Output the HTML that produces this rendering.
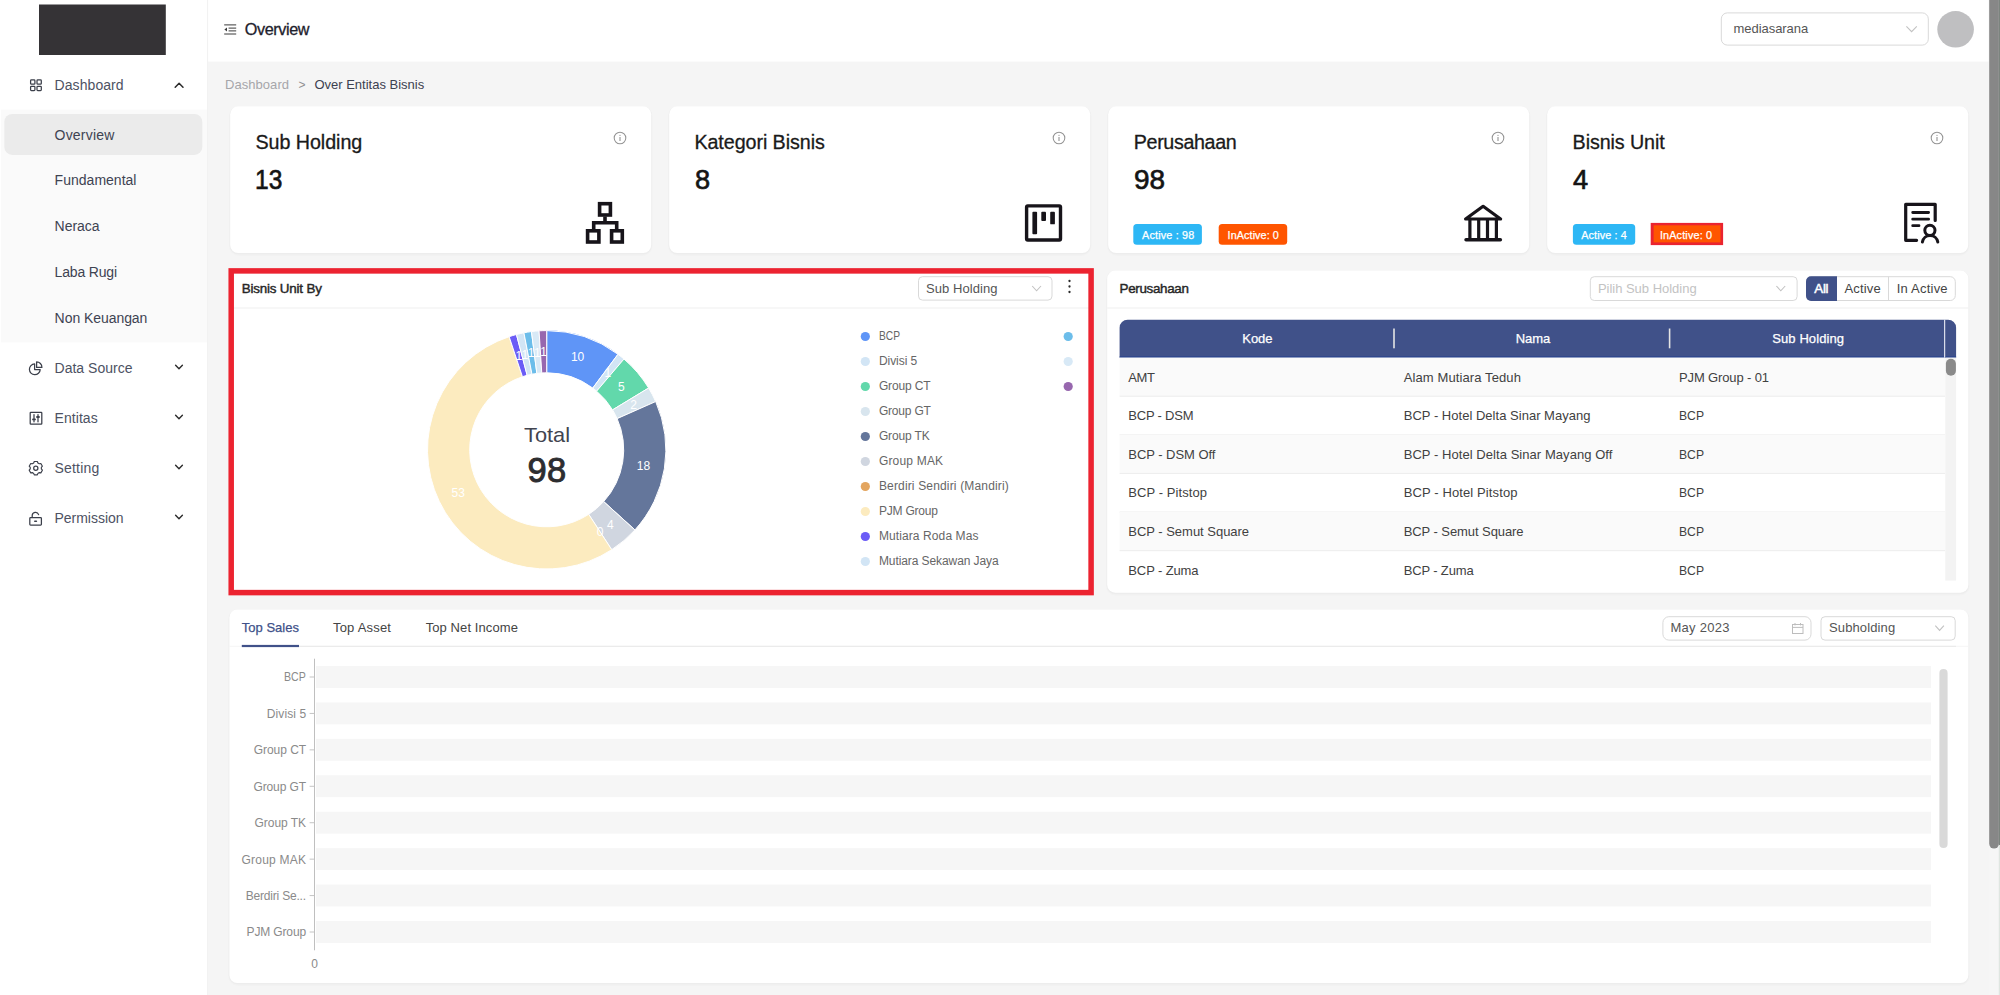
<!DOCTYPE html>
<html lang="en"><head><meta charset="utf-8"><title>Overview</title><style>
*{margin:0;padding:0}
html,body{width:2000px;height:995px;overflow:hidden;background:#f5f5f5}
body{position:relative;font-family:"Liberation Sans",sans-serif}
.b{position:absolute;display:block}
.t{position:absolute;white-space:nowrap;display:block}
svg text{font-family:"Liberation Sans",sans-serif}
</style></head>
<body>
<svg class="b" style="left:0;top:0" width="2000" height="995" viewBox="0 0 2000 995">
<rect x="0.00" y="0.00" width="207.20" height="995.00" fill="#fff"/>
<rect x="207.20" y="0.00" width="0.90" height="995.00" fill="#f0f0f0"/>
<rect x="39.00" y="4.50" width="126.80" height="50.50" fill="#353336"/>
<rect x="1.00" y="109.60" width="206.00" height="232.80" fill="#fafafa"/>
<rect x="4.30" y="113.90" width="198.00" height="41.00" fill="#ebebeb" rx="8"/>
<rect x="208.10" y="0.00" width="1781.00" height="61.60" fill="#fff"/>
<rect x="1721.30" y="12.90" width="207.00" height="32.20" fill="#fff" rx="6" stroke="#d9d9d9" stroke-width="1"/>
<circle cx="1955.6" cy="29.3" r="18.3" fill="#bfbfc1"/>
<rect x="228.70" y="105.80" width="424.00" height="150.20" fill="rgba(0,0,0,0.012)" rx="10"/>
<rect x="229.50" y="106.30" width="422.40" height="148.30" fill="rgba(0,0,0,0.02)" rx="9"/>
<rect x="230.20" y="106.30" width="421.00" height="146.70" fill="#fff" rx="8"/>
<rect x="667.70" y="105.80" width="424.00" height="150.20" fill="rgba(0,0,0,0.012)" rx="10"/>
<rect x="668.50" y="106.30" width="422.40" height="148.30" fill="rgba(0,0,0,0.02)" rx="9"/>
<rect x="669.20" y="106.30" width="421.00" height="146.70" fill="#fff" rx="8"/>
<rect x="1106.70" y="105.80" width="424.00" height="150.20" fill="rgba(0,0,0,0.012)" rx="10"/>
<rect x="1107.50" y="106.30" width="422.40" height="148.30" fill="rgba(0,0,0,0.02)" rx="9"/>
<rect x="1108.20" y="106.30" width="421.00" height="146.70" fill="#fff" rx="8"/>
<rect x="1545.70" y="105.80" width="424.00" height="150.20" fill="rgba(0,0,0,0.012)" rx="10"/>
<rect x="1546.50" y="106.30" width="422.40" height="148.30" fill="rgba(0,0,0,0.02)" rx="9"/>
<rect x="1547.20" y="106.30" width="421.00" height="146.70" fill="#fff" rx="8"/>
<rect x="1133.30" y="224.00" width="68.60" height="20.70" fill="#2db7f5" rx="3.5"/>
<rect x="1218.70" y="224.00" width="68.50" height="20.70" fill="#ff5500" rx="3.5"/>
<rect x="1572.90" y="224.00" width="62.30" height="20.70" fill="#2db7f5" rx="3.5"/>
<rect x="1650.70" y="222.90" width="72.40" height="22.20" fill="#ea2430"/>
<rect x="1653.60" y="225.30" width="66.90" height="17.10" fill="#ff5500"/>
<rect x="228.70" y="270.10" width="863.00" height="325.60" fill="rgba(0,0,0,0.012)" rx="10"/>
<rect x="229.50" y="270.60" width="861.40" height="323.70" fill="rgba(0,0,0,0.02)" rx="9"/>
<rect x="230.20" y="270.60" width="860.00" height="322.10" fill="#fff" rx="8"/>
<rect x="234.00" y="307.50" width="855.00" height="1.00" fill="#f0f0f0"/>
<rect x="918.50" y="276.70" width="133.50" height="23.40" fill="#fff" rx="4" stroke="#d9d9d9" stroke-width="1"/>
<rect x="1105.70" y="270.10" width="864.20" height="325.60" fill="rgba(0,0,0,0.012)" rx="10"/>
<rect x="1106.50" y="270.60" width="862.60" height="323.70" fill="rgba(0,0,0,0.02)" rx="9"/>
<rect x="1107.20" y="270.60" width="861.20" height="322.10" fill="#fff" rx="8"/>
<rect x="1107.20" y="307.50" width="861.20" height="1.00" fill="#f0f0f0"/>
<rect x="1590.30" y="276.70" width="206.80" height="23.80" fill="#fff" rx="4" stroke="#d9d9d9" stroke-width="1"/>
<rect x="1806.50" y="276.70" width="148.80" height="23.80" fill="#fff" rx="5" stroke="#d9d9d9" stroke-width="1"/>
<path d="M1837 276.2 H1811 A5 5 0 0 0 1806 281.2 V296 A5 5 0 0 0 1811 301 H1837 Z" fill="#405189"/>
<rect x="1888.00" y="276.70" width="1.00" height="23.80" fill="#d9d9d9"/>
<path d="M1119.6 357.6 V327.7 A8 8 0 0 1 1127.6 319.7 H1948.1 A8 8 0 0 1 1956.1 327.7 V357.6 Z" fill="#405189"/>
<rect x="1119.60" y="356.40" width="836.50" height="1.30" fill="#26428f"/>
<rect x="1393.20" y="328.50" width="1.60" height="19.80" fill="#e4e4e4"/>
<rect x="1668.80" y="328.50" width="1.60" height="19.80" fill="#e4e4e4"/>
<rect x="1944.10" y="319.70" width="1.10" height="37.90" fill="#e9ecf5"/>
<rect x="1119.60" y="357.60" width="825.40" height="38.60" fill="#fafafa"/>
<rect x="1119.60" y="395.70" width="825.40" height="1.10" fill="#eeeeee"/>
<rect x="1119.60" y="434.30" width="825.40" height="1.10" fill="#eeeeee"/>
<rect x="1119.60" y="434.80" width="825.40" height="38.60" fill="#fafafa"/>
<rect x="1119.60" y="472.90" width="825.40" height="1.10" fill="#eeeeee"/>
<rect x="1119.60" y="511.50" width="825.40" height="1.10" fill="#eeeeee"/>
<rect x="1119.60" y="512.00" width="825.40" height="38.60" fill="#fafafa"/>
<rect x="1119.60" y="550.10" width="825.40" height="1.10" fill="#eeeeee"/>
<rect x="1945.30" y="357.60" width="10.80" height="223.00" fill="#f3f3f3"/>
<rect x="1945.90" y="358.80" width="10.00" height="17.00" fill="#8a8a8a" rx="5"/>
<rect x="227.90" y="608.90" width="1742.00" height="377.10" fill="rgba(0,0,0,0.012)" rx="10"/>
<rect x="228.70" y="609.40" width="1740.40" height="375.20" fill="rgba(0,0,0,0.02)" rx="9"/>
<rect x="229.40" y="609.40" width="1739.00" height="373.60" fill="#fff" rx="8"/>
<rect x="229.40" y="645.80" width="1739.00" height="1.00" fill="#f5f5f5"/>
<rect x="241.80" y="645.80" width="1714.20" height="1.00" fill="#e8e8e8"/>
<rect x="241.80" y="644.90" width="57.20" height="2.20" fill="#405189"/>
<rect x="1662.90" y="616.70" width="148.10" height="23.40" fill="#fff" rx="6" stroke="#d9d9d9" stroke-width="1"/>
<rect x="1821.00" y="616.70" width="134.20" height="23.40" fill="#fff" rx="4" stroke="#d9d9d9" stroke-width="1"/>
<rect x="316.00" y="666.00" width="1615.00" height="21.90" fill="#f6f6f6"/>
<rect x="309.60" y="676.50" width="4.40" height="1.00" fill="#c4c4c4"/>
<rect x="316.00" y="702.43" width="1615.00" height="21.90" fill="#f6f6f6"/>
<rect x="309.60" y="712.93" width="4.40" height="1.00" fill="#c4c4c4"/>
<rect x="316.00" y="738.86" width="1615.00" height="21.90" fill="#f6f6f6"/>
<rect x="309.60" y="749.36" width="4.40" height="1.00" fill="#c4c4c4"/>
<rect x="316.00" y="775.29" width="1615.00" height="21.90" fill="#f6f6f6"/>
<rect x="309.60" y="785.79" width="4.40" height="1.00" fill="#c4c4c4"/>
<rect x="316.00" y="811.72" width="1615.00" height="21.90" fill="#f6f6f6"/>
<rect x="309.60" y="822.22" width="4.40" height="1.00" fill="#c4c4c4"/>
<rect x="316.00" y="848.15" width="1615.00" height="21.90" fill="#f6f6f6"/>
<rect x="309.60" y="858.65" width="4.40" height="1.00" fill="#c4c4c4"/>
<rect x="316.00" y="884.58" width="1615.00" height="21.90" fill="#f6f6f6"/>
<rect x="309.60" y="895.08" width="4.40" height="1.00" fill="#c4c4c4"/>
<rect x="316.00" y="921.01" width="1615.00" height="21.90" fill="#f6f6f6"/>
<rect x="309.60" y="931.51" width="4.40" height="1.00" fill="#c4c4c4"/>
<rect x="314.00" y="658.70" width="1.00" height="291.60" fill="#bfbfbf"/>
<rect x="1939.40" y="668.90" width="8.20" height="179.20" fill="#d9d9d9" rx="4.1"/>
<rect x="1988.60" y="0.00" width="11.40" height="995.00" fill="#f6f6f6"/>
<rect x="1998.80" y="0.00" width="1.20" height="995.00" fill="#dfe6e1"/>
<rect x="1998.80" y="0.00" width="1.20" height="845.00" fill="#7b847e"/>
<rect x="1989.20" y="-10.00" width="9.70" height="858.60" fill="#878787" rx="5"/>
</svg>
<aside>
<span class="t" style="left:54.60px;top:75px;font-size:14px;line-height:20px;color:#4d5263;letter-spacing:0.063px;">Dashboard</span>
<span class="t" style="left:54.60px;top:125px;font-size:14px;line-height:20px;color:#3e4352;letter-spacing:0.189px;">Overview</span>
<span class="t" style="left:54.60px;top:170px;font-size:14px;line-height:20px;color:#3e4352;letter-spacing:0.017px;">Fundamental</span>
<span class="t" style="left:54.60px;top:216px;font-size:14px;line-height:20px;color:#3e4352;letter-spacing:-0.030px;">Neraca</span>
<span class="t" style="left:54.60px;top:262px;font-size:14px;line-height:20px;color:#3e4352;letter-spacing:-0.168px;">Laba Rugi</span>
<span class="t" style="left:54.60px;top:308px;font-size:14px;line-height:20px;color:#3e4352;letter-spacing:-0.056px;">Non Keuangan</span>
<span class="t" style="left:54.50px;top:358px;font-size:14px;line-height:20px;color:#4d5263;letter-spacing:0.016px;">Data Source</span>
<span class="t" style="left:54.50px;top:408px;font-size:14px;line-height:20px;color:#4d5263;letter-spacing:0.066px;">Entitas</span>
<span class="t" style="left:54.50px;top:458px;font-size:14px;line-height:20px;color:#4d5263;letter-spacing:0.188px;">Setting</span>
<span class="t" style="left:54.50px;top:508px;font-size:14px;line-height:20px;color:#4d5263;letter-spacing:-0.026px;">Permission</span>
<svg class="b" style="left:0;top:0" width="207" height="560" viewBox="0 0 207 560" fill="none" stroke="#3b3f4a" stroke-width="1.25" stroke-linecap="round" stroke-linejoin="round">
<g><rect x="30.6" y="79.9" width="4.3" height="4.3" rx="0.8"/><rect x="37" y="79.9" width="4.3" height="4.3" rx="0.8"/><rect x="30.6" y="86.3" width="4.3" height="4.3" rx="0.8"/><rect x="37" y="86.3" width="4.3" height="4.3" rx="0.8"/></g>
<path d="M175.2 87.3 L179.1 83.2 L183 87.3" stroke="#2b2b2b" stroke-width="1.5"/>
<path d="M175.6 365.2 L179 368.7 L182.4 365.2" stroke="#2b2b2b" stroke-width="1.4"/>
<path d="M175.6 415.2 L179 418.7 L182.4 415.2" stroke="#2b2b2b" stroke-width="1.4"/>
<path d="M175.6 465.2 L179 468.7 L182.4 465.2" stroke="#2b2b2b" stroke-width="1.4"/>
<path d="M175.6 515.2 L179 518.7 L182.4 515.2" stroke="#2b2b2b" stroke-width="1.4"/>
<path d="M34.6 363.9 A5.4 5.4 0 1 0 40.2 369.6 L34.6 369.6 Z"/><path d="M36.6 361.9 A5.3 5.3 0 0 1 41.9 367.4 L36.6 367.4 Z"/>
<rect x="30.2" y="412.4" width="11.6" height="11.6" rx="0.6"/><path d="M34 414.6 V421.8 M38 414.6 V421.8"/><path d="M33 419.4 H35 M37 417 H39" stroke-width="1.8"/>
<path d="M34.25 461.48 L37.35 461.48 L37.90 463.01 L39.25 463.79 L40.85 463.49 L42.40 466.18 L41.35 467.42 L41.35 468.98 L42.40 470.22 L40.85 472.91 L39.25 472.61 L37.90 473.39 L37.35 474.92 L34.25 474.92 L33.70 473.39 L32.35 472.61 L30.75 472.91 L29.20 470.22 L30.25 468.98 L30.25 467.42 L29.20 466.18 L30.75 463.49 L32.35 463.79 L33.70 463.01 Z" stroke-width="1.15"/><circle cx="35.8" cy="468.2" r="2.1"/>
<rect x="29.8" y="517.6" width="11.6" height="7.4" rx="0.8"/><path d="M32.2 517.4 V515.6 A3.3 3.3 0 0 1 38.6 514.6"/><path d="M34.8 521.3 H36.4" stroke-width="1.6"/>
</svg>
</aside>
<header>
<svg class="b" style="left:222px;top:22px" width="18" height="16" viewBox="222 22 18 16" fill="none" stroke="#3a3a3a" stroke-width="1">
<path d="M224.2 24.9 H236.2 M228.6 28.1 H236.2 M228.6 30.9 H236.2 M224.2 34 H236.2"/><path d="M227 27.5 L224.4 29.5 L227 31.5 Z" fill="#3a3a3a" stroke="none"/></svg>
<span class="t" style="left:244.80px;top:18px;font-size:16.2px;line-height:23px;color:#1d212c;letter-spacing:-0.393px;-webkit-text-stroke:0.3px #1d212c;">Overview</span>
<span class="t" style="left:1733.50px;top:20px;font-size:13px;line-height:18px;color:#555;letter-spacing:-0.047px;">mediasarana</span>
<svg class="b" style="left:1904px;top:24px" width="16" height="12" viewBox="1904 24 16 12" fill="none" stroke="#c2c2c2" stroke-width="1.1"><path d="M1906.4 26.3 L1911.6 31.6 L1916.8 26.3"/></svg>
</header>
<main>
<span class="t" style="left:225.00px;top:76px;font-size:13px;line-height:18px;color:#a6a6aa;letter-spacing:0.050px;">Dashboard</span>
<span class="t" style="left:298.60px;top:77px;font-size:12px;line-height:17px;color:#8f8f8f;">&gt;</span>
<span class="t" style="left:314.40px;top:76px;font-size:13px;line-height:18px;color:#3c4150;">Over Entitas Bisnis</span>
<span class="t" style="left:255.40px;top:128px;font-size:19.7px;line-height:28px;color:#1a1a1a;letter-spacing:-0.042px;-webkit-text-stroke:0.3px #1a1a1a;">Sub Holding</span>
<span class="t" style="left:255.40px;top:161px;font-size:27.2px;line-height:38px;color:#141414;-webkit-text-stroke:0.65px #141414;transform:scaleX(0.9022);transform-origin:0 0;">13</span>
<svg class="b" style="left:611.5px;top:129.6px" width="16" height="16" viewBox="-8 -8 16 16" fill="none" stroke="#949494" stroke-width="1.05"><circle r="5.8"/><path d="M0 -0.9 V3" stroke-width="1.1"/><circle cy="-2.7" r="0.65" fill="#949494" stroke="none"/></svg>
<span class="t" style="left:694.40px;top:128px;font-size:19.7px;line-height:28px;color:#1a1a1a;letter-spacing:-0.064px;-webkit-text-stroke:0.3px #1a1a1a;">Kategori Bisnis</span>
<span class="t" style="left:695.00px;top:161px;font-size:27.2px;line-height:38px;color:#141414;-webkit-text-stroke:0.65px #141414;">8</span>
<svg class="b" style="left:1050.5px;top:129.6px" width="16" height="16" viewBox="-8 -8 16 16" fill="none" stroke="#949494" stroke-width="1.05"><circle r="5.8"/><path d="M0 -0.9 V3" stroke-width="1.1"/><circle cy="-2.7" r="0.65" fill="#949494" stroke="none"/></svg>
<span class="t" style="left:1133.80px;top:128px;font-size:19.7px;line-height:28px;color:#1a1a1a;letter-spacing:-0.359px;-webkit-text-stroke:0.3px #1a1a1a;">Perusahaan</span>
<span class="t" style="left:1133.80px;top:161px;font-size:27.2px;line-height:38px;color:#141414;-webkit-text-stroke:0.65px #141414;transform:scaleX(1.0278);transform-origin:0 0;">98</span>
<svg class="b" style="left:1489.5px;top:129.6px" width="16" height="16" viewBox="-8 -8 16 16" fill="none" stroke="#949494" stroke-width="1.05"><circle r="5.8"/><path d="M0 -0.9 V3" stroke-width="1.1"/><circle cy="-2.7" r="0.65" fill="#949494" stroke="none"/></svg>
<span class="t" style="left:1572.60px;top:128px;font-size:19.7px;line-height:28px;color:#1a1a1a;letter-spacing:-0.088px;-webkit-text-stroke:0.3px #1a1a1a;">Bisnis Unit</span>
<span class="t" style="left:1573.10px;top:161px;font-size:27.2px;line-height:38px;color:#141414;-webkit-text-stroke:0.65px #141414;">4</span>
<svg class="b" style="left:1928.5px;top:129.6px" width="16" height="16" viewBox="-8 -8 16 16" fill="none" stroke="#949494" stroke-width="1.05"><circle r="5.8"/><path d="M0 -0.9 V3" stroke-width="1.1"/><circle cy="-2.7" r="0.65" fill="#949494" stroke="none"/></svg>
<span class="t" style="left:1142.00px;top:228px;font-size:10.8px;line-height:15px;color:#fff;letter-spacing:0.186px;-webkit-text-stroke:0.25px #fff;">Active : 98</span>
<span class="t" style="left:1227.60px;top:228px;font-size:10.8px;line-height:15px;color:#fff;letter-spacing:0.086px;-webkit-text-stroke:0.25px #fff;">InActive: 0</span>
<span class="t" style="left:1581.20px;top:228px;font-size:10.8px;line-height:15px;color:#fff;letter-spacing:0.132px;-webkit-text-stroke:0.25px #fff;">Active : 4</span>
<span class="t" style="left:1659.90px;top:228px;font-size:10.8px;line-height:15px;color:#fff;letter-spacing:0.176px;-webkit-text-stroke:0.25px #fff;">InActive: 0</span>
<svg class="b" style="left:580px;top:198px" width="50" height="50" viewBox="580 198 50 50" fill="none" stroke="#17141a" stroke-width="3.6" stroke-linejoin="miter">
<rect x="599.6" y="203.7" width="10.8" height="11.3"/><rect x="587.6" y="230.8" width="11.3" height="11.2"/><rect x="611.6" y="230.8" width="10.7" height="11.2"/>
<path d="M605 216.6 V222.8 M593.7 229.4 V222.8 H616.7 V229.4"/></svg>
<svg class="b" style="left:1020px;top:200px" width="48" height="46" viewBox="1020 200 48 46" fill="none" stroke="#17141a">
<rect x="1026.6" y="205.9" width="33.9" height="34.1" rx="1.2" stroke-width="3.4"/>
<g fill="#17141a" stroke="none"><rect x="1032.4" y="211.8" width="4.7" height="22.4" rx="0.9"/><rect x="1041.3" y="211.8" width="4.7" height="9.2" rx="0.9"/><rect x="1050.2" y="211.8" width="4.7" height="12.5" rx="0.9"/></g></svg>
<svg class="b" style="left:1460px;top:200px" width="48" height="46" viewBox="1460 200 48 46" fill="none" stroke="#17141a" stroke-width="3.2" stroke-linejoin="round" stroke-linecap="round">
<path d="M1465.6 219 L1483.1 206.3 L1500.6 219 Z"/><path d="M1469.9 220 V239 M1478.7 220 V239 M1487.5 220 V239 M1496.4 220 V239" stroke-linecap="butt"/><path d="M1466 239.8 H1500.4" stroke-width="3.4"/></svg>
<svg class="b" style="left:1900px;top:198px" width="44" height="50" viewBox="1900 198 44 50" fill="none" stroke="#17141a" stroke-width="3.2" stroke-linecap="round" stroke-linejoin="round">
<path d="M1935.2 220.4 V204.3 H1905.7 V240.3 H1916.6"/><path d="M1912.7 212.5 H1928.6 M1912.7 219.2 H1928.6 M1912.7 225.7 H1919" stroke-width="2.8"/>
<circle cx="1929.9" cy="230.3" r="5.1" stroke-width="3"/><path d="M1922.4 242 A7.8 7.8 0 0 1 1937.8 242" stroke-width="3"/></svg>
<span class="t" style="left:241.80px;top:279px;font-size:13.4px;line-height:19px;color:#262626;letter-spacing:-0.196px;-webkit-text-stroke:0.42px #262626;">Bisnis Unit By</span>
<span class="t" style="left:926.00px;top:280px;font-size:13px;line-height:18px;color:#555;letter-spacing:0.068px;">Sub Holding</span>
<svg class="b" style="left:1028px;top:282px" width="18" height="14" viewBox="1028 282 18 14" fill="none" stroke="#c2c2c2" stroke-width="1.1"><path d="M1032.2 286 L1036.6 290.8 L1041 286"/></svg>
<svg class="b" style="left:1064px;top:278px" width="12" height="18" viewBox="1064 278 12 18" fill="#2b2b2b"><circle cx="1069.5" cy="281" r="1.15"/><circle cx="1069.5" cy="286.5" r="1.15"/><circle cx="1069.5" cy="292" r="1.15"/></svg>
<svg class="b" style="left:400px;top:310px" width="300" height="280" viewBox="400 310 300 280"><path d="M546.70 330.60 A119.2 119.2 0 0 1 617.99 354.27 L592.75 388.09 A77 77 0 0 0 546.70 372.80 Z" fill="#5f95f7" stroke="#fff" stroke-width="1"/><path d="M617.99 354.27 A119.2 119.2 0 0 1 623.97 359.04 L596.61 391.17 A77 77 0 0 0 592.75 388.09 Z" fill="#d2e5f5" stroke="#fff" stroke-width="1"/><path d="M623.97 359.04 A119.2 119.2 0 0 1 648.63 388.01 L612.55 409.88 A77 77 0 0 0 596.61 391.17 Z" fill="#62d8ab" stroke="#fff" stroke-width="1"/><path d="M648.63 388.01 A119.2 119.2 0 0 1 655.70 401.55 L617.11 418.63 A77 77 0 0 0 612.55 409.88 Z" fill="#d8e5ee" stroke="#fff" stroke-width="1"/><path d="M655.70 401.55 A119.2 119.2 0 0 1 634.94 529.94 L603.70 501.57 A77 77 0 0 0 617.11 418.63 Z" fill="#64769b" stroke="#fff" stroke-width="1"/><path d="M634.94 529.94 A119.2 119.2 0 0 1 611.73 549.70 L588.71 514.33 A77 77 0 0 0 603.70 501.57 Z" fill="#d0d6e0" stroke="#fff" stroke-width="1"/><path d="M611.73 549.70 A119.2 119.2 0 1 1 509.14 336.67 L522.44 376.72 A77 77 0 1 0 588.71 514.33 Z" fill="#fcebbf" stroke="#fff" stroke-width="1"/><path d="M509.14 336.67 A119.2 119.2 0 0 1 516.46 334.50 L527.17 375.32 A77 77 0 0 0 522.44 376.72 Z" fill="#6b5cf6" stroke="#fff" stroke-width="1"/><path d="M516.46 334.50 A119.2 119.2 0 0 1 523.91 332.80 L531.98 374.22 A77 77 0 0 0 527.17 375.32 Z" fill="#d2e5f5" stroke="#fff" stroke-width="1"/><path d="M523.91 332.80 A119.2 119.2 0 0 1 531.46 331.58 L536.85 373.43 A77 77 0 0 0 531.98 374.22 Z" fill="#6cbdea" stroke="#fff" stroke-width="1"/><path d="M531.46 331.58 A119.2 119.2 0 0 1 539.06 330.84 L541.77 372.96 A77 77 0 0 0 536.85 373.43 Z" fill="#d8e9f6" stroke="#fff" stroke-width="1"/><path d="M539.06 330.84 A119.2 119.2 0 0 1 546.70 330.60 L546.70 372.80 A77 77 0 0 0 541.77 372.96 Z" fill="#9767ae" stroke="#fff" stroke-width="1"/><text x="577.6" y="361.0" text-anchor="middle" font-size="12" fill="#fff">10</text><text x="607.9" y="377.4" text-anchor="middle" font-size="12" fill="#fff">1</text><text x="621.4" y="390.5" text-anchor="middle" font-size="12" fill="#fff">5</text><text x="633.7" y="408.7" text-anchor="middle" font-size="12" fill="#fff">2</text><text x="643.5" y="469.8" text-anchor="middle" font-size="12" fill="#fff">18</text><text x="610.3" y="528.8" text-anchor="middle" font-size="12" fill="#fff">4</text><text x="600.2" y="536.3" text-anchor="middle" font-size="12" fill="#fff">0</text><text x="458.3" y="496.7" text-anchor="middle" font-size="12" fill="#fff">53</text><text x="518.8" y="360.1" text-anchor="middle" font-size="12" fill="#fff">1</text><text x="524.9" y="358.5" text-anchor="middle" font-size="12" fill="#fff">1</text><text x="531.0" y="357.3" text-anchor="middle" font-size="12" fill="#fff">1</text><text x="537.3" y="356.5" text-anchor="middle" font-size="12" fill="#fff">1</text><text x="543.6" y="356.1" text-anchor="middle" font-size="12" fill="#fff">1</text></svg>
<span class="t" style="left:524.20px;top:421px;font-size:20.3px;line-height:28px;color:#41444f;transform:scaleX(1.0750);transform-origin:0 0;">Total</span>
<span class="t" style="left:527.40px;top:446px;font-size:34.5px;line-height:48px;color:#2d2d30;letter-spacing:0.419px;-webkit-text-stroke:0.9px #2d2d30;">98</span>
<span class="t" style="left:878.90px;top:328px;font-size:12px;line-height:17px;color:#666666;transform:scaleX(0.8516);transform-origin:0 0;">BCP</span>
<span class="t" style="left:878.90px;top:353px;font-size:12px;line-height:17px;color:#666666;letter-spacing:-0.039px;">Divisi 5</span>
<span class="t" style="left:878.90px;top:378px;font-size:12px;line-height:17px;color:#666666;letter-spacing:-0.126px;">Group CT</span>
<span class="t" style="left:878.90px;top:403px;font-size:12px;line-height:17px;color:#666666;letter-spacing:-0.191px;">Group GT</span>
<span class="t" style="left:878.90px;top:428px;font-size:12px;line-height:17px;color:#666666;letter-spacing:-0.144px;">Group TK</span>
<span class="t" style="left:878.90px;top:453px;font-size:12px;line-height:17px;color:#666666;letter-spacing:0.188px;">Group MAK</span>
<span class="t" style="left:878.90px;top:478px;font-size:12px;line-height:17px;color:#666666;letter-spacing:0.161px;">Berdiri Sendiri (Mandiri)</span>
<span class="t" style="left:878.90px;top:503px;font-size:12px;line-height:17px;color:#666666;letter-spacing:-0.199px;">PJM Group</span>
<span class="t" style="left:878.90px;top:528px;font-size:12px;line-height:17px;color:#666666;letter-spacing:0.104px;">Mutiara Roda Mas</span>
<span class="t" style="left:878.90px;top:553px;font-size:12px;line-height:17px;color:#666666;letter-spacing:-0.085px;">Mutiara Sekawan Jaya</span>
<svg class="b" style="left:856px;top:326px" width="220" height="250" viewBox="856 326 220 250"><circle cx="865.3" cy="336.5" r="4.6" fill="#5f95f7"/><circle cx="865.3" cy="361.5" r="4.6" fill="#d2e5f5"/><circle cx="865.3" cy="386.5" r="4.6" fill="#62d8ab"/><circle cx="865.3" cy="411.5" r="4.6" fill="#d8e5ee"/><circle cx="865.3" cy="436.5" r="4.6" fill="#64769b"/><circle cx="865.3" cy="461.5" r="4.6" fill="#d0d6e0"/><circle cx="865.3" cy="486.5" r="4.6" fill="#e3a55f"/><circle cx="865.3" cy="511.5" r="4.6" fill="#fcebbf"/><circle cx="865.3" cy="536.5" r="4.6" fill="#6b5cf6"/><circle cx="865.3" cy="561.5" r="4.6" fill="#d2e5f5"/><circle cx="1068.2" cy="336.5" r="4.6" fill="#6cbdea"/><circle cx="1068.2" cy="361.5" r="4.6" fill="#d8e9f6"/><circle cx="1068.2" cy="386.5" r="4.6" fill="#9767ae"/></svg>
<span class="t" style="left:1119.60px;top:279px;font-size:13.4px;line-height:19px;color:#262626;letter-spacing:-0.329px;-webkit-text-stroke:0.42px #262626;">Perusahaan</span>
<span class="t" style="left:1597.90px;top:280px;font-size:13px;line-height:18px;color:#c3c3c3;letter-spacing:-0.018px;">Pilih Sub Holding</span>
<svg class="b" style="left:1772px;top:282px" width="18" height="14" viewBox="1772 282 18 14" fill="none" stroke="#c2c2c2" stroke-width="1.1"><path d="M1776.4 286 L1780.8 290.8 L1785.2 286"/></svg>
<span class="t" style="left:1814.30px;top:279px;font-size:13.3px;line-height:19px;color:#fff;letter-spacing:-0.248px;-webkit-text-stroke:0.5px #fff;">All</span>
<span class="t" style="left:1844.50px;top:280px;font-size:13px;line-height:18px;color:#444;letter-spacing:0.162px;">Active</span>
<span class="t" style="left:1896.70px;top:280px;font-size:13px;line-height:18px;color:#444;letter-spacing:0.220px;">In Active</span>
<span class="t" style="left:1242.30px;top:330px;font-size:13px;line-height:18px;color:#fff;letter-spacing:-0.052px;-webkit-text-stroke:0.25px #fff;">Kode</span>
<span class="t" style="left:1515.80px;top:330px;font-size:13px;line-height:18px;color:#fff;letter-spacing:-0.103px;-webkit-text-stroke:0.25px #fff;">Nama</span>
<span class="t" style="left:1772.30px;top:330px;font-size:13px;line-height:18px;color:#fff;letter-spacing:0.088px;-webkit-text-stroke:0.25px #fff;">Sub Holding</span>
<span class="t" style="left:1128.30px;top:369px;font-size:13px;line-height:18px;color:#414141;letter-spacing:-0.415px;">AMT</span>
<span class="t" style="left:1403.70px;top:369px;font-size:13px;line-height:18px;color:#414141;letter-spacing:0.107px;">Alam Mutiara Teduh</span>
<span class="t" style="left:1679.00px;top:369px;font-size:13px;line-height:18px;color:#414141;letter-spacing:-0.134px;">PJM Group - 01</span>
<span class="t" style="left:1128.30px;top:407px;font-size:13px;line-height:18px;color:#414141;letter-spacing:-0.206px;">BCP - DSM</span>
<span class="t" style="left:1403.70px;top:407px;font-size:13px;line-height:18px;color:#414141;letter-spacing:0.021px;">BCP - Hotel Delta Sinar Mayang</span>
<span class="t" style="left:1679.00px;top:407px;font-size:13px;line-height:18px;color:#414141;transform:scaleX(0.9358);transform-origin:0 0;">BCP</span>
<span class="t" style="left:1128.30px;top:446px;font-size:13px;line-height:18px;color:#414141;letter-spacing:-0.040px;">BCP - DSM Off</span>
<span class="t" style="left:1403.70px;top:446px;font-size:13px;line-height:18px;color:#414141;letter-spacing:0.054px;">BCP - Hotel Delta Sinar Mayang Off</span>
<span class="t" style="left:1679.00px;top:446px;font-size:13px;line-height:18px;color:#414141;transform:scaleX(0.9358);transform-origin:0 0;">BCP</span>
<span class="t" style="left:1128.30px;top:484px;font-size:13px;line-height:18px;color:#414141;letter-spacing:0.075px;">BCP - Pitstop</span>
<span class="t" style="left:1403.70px;top:484px;font-size:13px;line-height:18px;color:#414141;letter-spacing:0.113px;">BCP - Hotel Pitstop</span>
<span class="t" style="left:1679.00px;top:484px;font-size:13px;line-height:18px;color:#414141;transform:scaleX(0.9358);transform-origin:0 0;">BCP</span>
<span class="t" style="left:1128.30px;top:523px;font-size:13px;line-height:18px;color:#414141;letter-spacing:-0.021px;">BCP - Semut Square</span>
<span class="t" style="left:1403.70px;top:523px;font-size:13px;line-height:18px;color:#414141;letter-spacing:-0.074px;">BCP - Semut Square</span>
<span class="t" style="left:1679.00px;top:523px;font-size:13px;line-height:18px;color:#414141;transform:scaleX(0.9358);transform-origin:0 0;">BCP</span>
<span class="t" style="left:1128.30px;top:562px;font-size:13px;line-height:18px;color:#414141;letter-spacing:-0.112px;">BCP - Zuma</span>
<span class="t" style="left:1403.70px;top:562px;font-size:13px;line-height:18px;color:#414141;letter-spacing:-0.145px;">BCP - Zuma</span>
<span class="t" style="left:1679.00px;top:562px;font-size:13px;line-height:18px;color:#414141;transform:scaleX(0.9358);transform-origin:0 0;">BCP</span>
<svg class="b" style="left:220px;top:260px" width="884" height="344" viewBox="220 260 884 344" fill="none"><rect x="231.2" y="270.9" width="859.9" height="321.7" stroke="#ec2330" stroke-width="5.5"/></svg>
<span class="t" style="left:241.80px;top:619px;font-size:13px;line-height:18px;color:#405189;letter-spacing:0.012px;-webkit-text-stroke:0.25px #405189;">Top Sales</span>
<span class="t" style="left:333.00px;top:619px;font-size:13px;line-height:18px;color:#444;letter-spacing:0.193px;">Top Asset</span>
<span class="t" style="left:425.70px;top:619px;font-size:13px;line-height:18px;color:#444;letter-spacing:0.090px;">Top Net Income</span>
<span class="t" style="left:1670.40px;top:619px;font-size:13px;line-height:18px;color:#555;letter-spacing:0.271px;">May 2023</span>
<svg class="b" style="left:1790px;top:621px" width="16" height="16" viewBox="1790 621 16 16" fill="none" stroke="#bdbdbd" stroke-width="1"><rect x="1792.5" y="624.5" width="10.5" height="9"/><path d="M1792.5 627.4 H1803 M1795 623 V625.4 M1800.5 623 V625.4"/></svg>
<span class="t" style="left:1829.00px;top:619px;font-size:13px;line-height:18px;color:#555;letter-spacing:0.126px;">Subholding</span>
<svg class="b" style="left:1931px;top:621px" width="18" height="14" viewBox="1931 621 18 14" fill="none" stroke="#c2c2c2" stroke-width="1.1"><path d="M1935.3 625.6 L1939.6 630.4 L1943.9 625.6"/></svg>
<span class="t" style="left:284.30px;top:669px;font-size:12px;line-height:17px;color:#8a8a8a;transform:scaleX(0.8840);transform-origin:0 0;">BCP</span>
<span class="t" style="left:266.80px;top:706px;font-size:12px;line-height:17px;color:#8a8a8a;letter-spacing:0.090px;">Divisi 5</span>
<span class="t" style="left:253.70px;top:742px;font-size:12px;line-height:17px;color:#8a8a8a;letter-spacing:-0.040px;">Group CT</span>
<span class="t" style="left:253.40px;top:779px;font-size:12px;line-height:17px;color:#8a8a8a;letter-spacing:-0.091px;">Group GT</span>
<span class="t" style="left:254.50px;top:815px;font-size:12px;line-height:17px;color:#8a8a8a;letter-spacing:-0.030px;">Group TK</span>
<span class="t" style="left:241.40px;top:852px;font-size:12px;line-height:17px;color:#8a8a8a;letter-spacing:0.250px;">Group MAK</span>
<span class="t" style="left:245.80px;top:888px;font-size:12px;line-height:17px;color:#8a8a8a;letter-spacing:-0.200px;">Berdiri Se...</span>
<span class="t" style="left:246.60px;top:924px;font-size:12px;line-height:17px;color:#8a8a8a;letter-spacing:-0.149px;">PJM Group</span>
<span class="t" style="left:311.20px;top:956px;font-size:12px;line-height:17px;color:#8a8a8a;">0</span>
</main>
</body></html>
